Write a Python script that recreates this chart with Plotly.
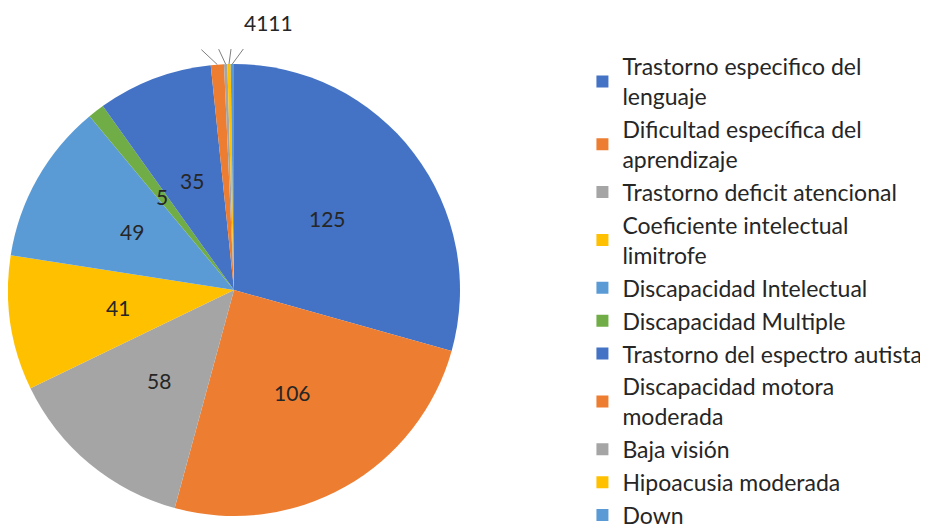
import math
import plotly.graph_objects as go

categorias = [
    "Trastorno especifico del<br>lenguaje",
    "Dificultad específica del<br>aprendizaje",
    "Trastorno deficit atencional",
    "Coeficiente intelectual<br>limitrofe",
    "Discapacidad Intelectual",
    "Discapacidad Multiple",
    "Trastorno del espectro autista",
    "Discapacidad motora<br>moderada",
    "Baja visión",
    "Hipoacusia moderada",
    "Down",
]
cantidades = [125, 106, 58, 41, 49, 5, 35, 4, 1, 1, 1]

colores = ["#4472C4", "#ED7D31", "#A5A5A5", "#FFC000", "#5B9BD5", "#70AD47",
           "#4472C4", "#ED7D31", "#A5A5A5", "#FFC000", "#5B9BD5"]

# las porciones pequeñas van con etiqueta afuera (como en Excel)
umbral = 5

# el body del html tiene 8px de margen, se compensa
W, H = 928, 529
OFF = 8
cx, cy, r = 234 - OFF, 290 - OFF, 226
dom_x = [max(0, (cx - r) / W), (cx + r) / W]
dom_y = [(H - cy - r) / H, (H - cy + r) / H]

fig = go.Figure(go.Pie(
    labels=categorias,
    values=cantidades,
    textinfo="none",
    sort=False,
    direction="clockwise",
    rotation=0,
    marker=dict(colors=colores, line=dict(width=0)),
    domain=dict(x=dom_x, y=dom_y),
    showlegend=True,
    hoverinfo="label+value",
))

# etiquetas al estilo Excel: a media distancia sobre el angulo medio
total = sum(cantidades)
acum = 0
pequenas = []
for v in cantidades:
    ang = (acum + v / 2) / total * 2 * math.pi
    if v < umbral:
        pequenas.append(ang)
    else:
        px_ = cx + 0.52 * r * math.sin(ang)
        py_ = cy - 0.52 * r * math.cos(ang)
        fig.add_annotation(text=str(v), xref="paper", yref="paper",
                           x=px_ / W, y=1 - py_ / H,
                           xanchor="center", yanchor="middle", showarrow=False,
                           font=dict(size=21, color="#262626"))
    acum += v

# lineas guia para las porciones pequeñas
for i, ang in enumerate(pequenas):
    x0 = cx + r * math.sin(ang)
    y0 = cy - r * math.cos(ang)
    x1 = x0 - 16 + i * 9
    y1 = y0 - 15
    fig.add_shape(type="line", xref="paper", yref="paper",
                  x0=x0 / W, y0=1 - y0 / H, x1=x1 / W, y1=1 - y1 / H,
                  line=dict(color="#7f7f7f", width=1))

etiqueta_chica = "".join(str(v) for v in cantidades if v < umbral)
fig.add_annotation(text=etiqueta_chica, xref="paper", yref="paper",
                   x=(268 - OFF) / W, y=1 - (22 - OFF) / H,
                   xanchor="center", yanchor="middle", showarrow=False,
                   font=dict(size=21, color="#262626"))

fig.update_layout(
    width=W, height=H,
    margin=dict(t=0, b=0, l=0, r=0),
    paper_bgcolor="white",
    font=dict(family="Lato", size=23, color="#262626"),
    legend=dict(
        x=0.619, y=1 - 56 / H, xanchor="left", yanchor="top",
        font=dict(size=23),
        itemclick=False,
    ),
)

fig.write_html("out.html")
